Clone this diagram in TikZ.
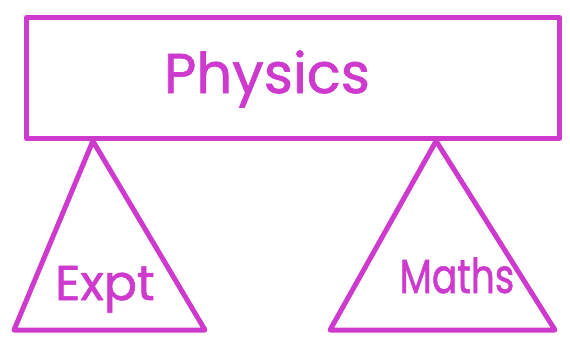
\documentclass[tikz,border=0pt]{standalone}
\usepackage{fontspec}
\setmainfont{Poppins}
\newfontfamily\penfont[FakeBold=1.2]{Poppins}
\usepackage{tikz}
\usetikzlibrary{positioning,calc}
\definecolor{pen}{RGB}{206,58,206}

\begin{document}
\begin{tikzpicture}[
  x=1pt, y=-1pt,
  line width=5pt, line join=round, line cap=round,
  lab/.style={text=pen, inner sep=0pt, anchor=base},
  tri/.style={draw=pen},
]
  \useasboundingbox (0,0) rectangle (570,341);

  %=================== top box ===================
  \node[draw=pen, minimum width=533pt, minimum height=121pt, anchor=north west,
        inner sep=0pt] (phys) at (24,15) {};
  \node[lab, font=\penfont\fontsize{56}{60}\selectfont] (physlbl) at (267,93) {Physics};

  %=================== left triangle ===================
  \coordinate (ltop) at ($(phys.south west)!0.128!(phys.south east)$);
  \coordinate (lbl) at (14,330);
  \coordinate (lbr) at (205,330);
  \draw[tri] (ltop) -- (lbl) -- (lbr) -- cycle;
  \node[lab, font=\penfont\fontsize{49}{52}\selectfont] (expt) at (105,300) {Expt};

  %=================== right triangle ===================
  \coordinate (rtop) at ($(phys.south west)!0.766!(phys.south east)$);
  \coordinate (rbl) at (330,330);
  \coordinate (rbr) at (555,330);
  \draw[tri] (rtop) -- (rbl) -- (rbr) -- cycle;
  \node[lab, font=\penfont\fontsize{48}{52}\selectfont] (maths) at (457,293)
       {\scalebox{0.78}[1]{Maths}};
\end{tikzpicture}
\end{document}
